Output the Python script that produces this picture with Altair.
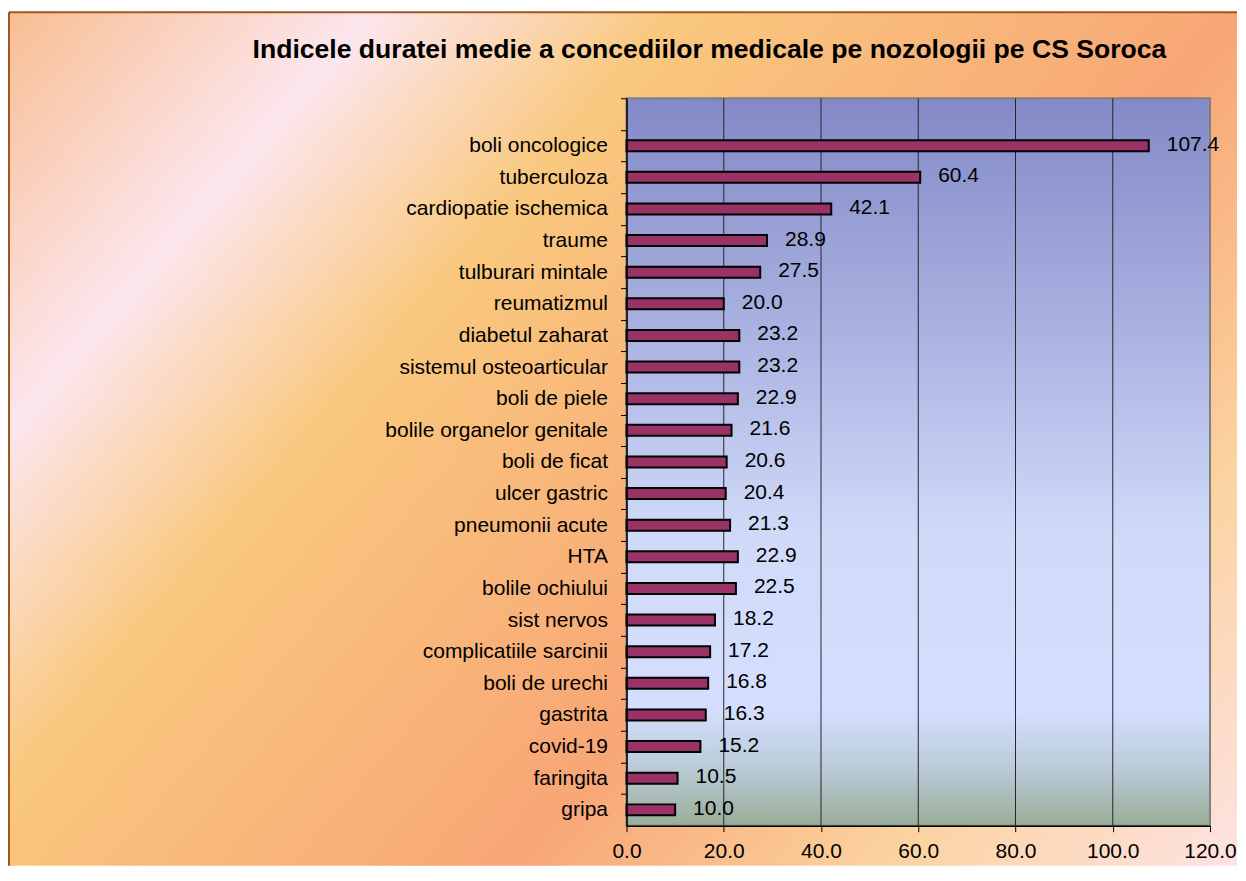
import altair as alt
import pandas as pd

# ---- data ----
categories = [
    "boli oncologice", "tuberculoza", "cardiopatie ischemica", "traume",
    "tulburari mintale", "reumatizmul\u00a0", "diabetul zaharat",
    "sistemul osteoarticular", "boli de piele", "bolile organelor genitale",
    "boli de ficat", "ulcer gastric", "pneumonii acute", "HTA",
    "bolile ochiului", "sist nervos", "complicatiile sarcinii",
    "boli de urechi", "gastrita", "covid-19", "faringita", "gripa",
]
values = [107.4, 60.4, 42.1, 28.9, 27.5, 20.0, 23.2, 23.2, 22.9, 21.6,
          20.6, 20.4, 21.3, 22.9, 22.5, 18.2, 17.2, 16.8, 16.3, 15.2, 10.5, 10.0]
x_ticks = [0, 20, 40, 60, 80, 100, 120]
grid_values = [20, 40, 60, 80, 100]
title_text = "Indicele duratei medie a concediilor medicale pe nozologii pe CS Soroca"

W, H = 584, 728
FONT = "Liberation Sans"
domain = [" "] + categories          # empty slot at the top of the plot
step = H / len(domain)

df = pd.DataFrame({"category": categories, "value": values})
grid_df = pd.DataFrame({"value": grid_values})
one = alt.Data(values=[{"a": 1}])

xscale = alt.Scale(domain=[0, 120], nice=False, zero=True)
yscale = alt.Scale(domain=domain, paddingInner=0, paddingOuter=0)

outer_grad = {
    "gradient": "linear", "x1": 0, "y1": 0, "x2": 1.176, "y2": 0.706,
    "stops": [
        {"offset": 0.0, "color": "#F8BE92"},
        {"offset": 0.185, "color": "#FCE6EE"},
        {"offset": 0.34, "color": "#F9C87E"},
        {"offset": 0.63, "color": "#F8A676"},
        {"offset": 0.82, "color": "#FBD3A0"},
        {"offset": 1.0, "color": "#FDE2E2"},
    ],
}
plot_grad = {
    "gradient": "linear", "x1": 0, "y1": 0, "x2": 0, "y2": 1,
    "stops": [
        {"offset": 0.0, "color": "#8389C6"},
        {"offset": 0.35, "color": "#AEB6E4"},
        {"offset": 0.60, "color": "#D0DAF8"},
        {"offset": 0.84, "color": "#D4DFFF"},
        {"offset": 0.92, "color": "#BACBD8"},
        {"offset": 1.0, "color": "#99AD97"},
    ],
}

L, R, T, B = -618, 611, -86, 768
BORDER = "#A0561E"

outer_bg = alt.Chart(one).mark_rect(fill=outer_grad).encode(
    x=alt.value(L), x2=alt.value(R), y=alt.value(T), y2=alt.value(B)
)
top_border = alt.Chart(one).mark_rule(color=BORDER, strokeWidth=2).encode(
    x=alt.value(L), x2=alt.value(R), y=alt.value(T)
)
left_border = alt.Chart(one).mark_rule(color=BORDER, strokeWidth=2).encode(
    x=alt.value(L), y=alt.value(T), y2=alt.value(B)
)
title = alt.Chart(one).mark_text(
    text=title_text, font=FONT, fontSize=26.6, fontWeight="bold",
    align="center", baseline="middle", color="black"
).encode(x=alt.value(83), y=alt.value(-48))

plot_bg = alt.Chart(one).mark_rect(fill=plot_grad, stroke="#808080", strokeWidth=2).encode(
    x=alt.value(0), x2=alt.value(W), y=alt.value(0), y2=alt.value(H)
)

grid = alt.Chart(grid_df).mark_rule(color="#262626", strokeWidth=1).encode(
    x=alt.X("value:Q", scale=xscale), y=alt.value(0), y2=alt.value(H)
)

xaxis = alt.Axis(
    values=x_ticks, format=".1f", title=None, grid=False, zindex=1,
    labelFont=FONT, labelFontSize=21, labelColor="black", labelPadding=9,
    domainColor="black", domainWidth=1.5, tickColor="black", tickSize=6,
    labelFlush=False, labelOverlap=False,
)
yaxis = alt.Axis(
    title=None, grid=False, zindex=1, labelFont=FONT, labelFontSize=21,
    labelColor="black", labelPadding=13, labelLimit=500,
    domainColor="black", domainWidth=1.5, tickColor="black", tickSize=6,
    tickOffset=-step / 2, labelOffset=step / 2,
)

bars = alt.Chart(df).mark_bar(size=11, fill="#993366", stroke="black", strokeWidth=2).encode(
    x=alt.X("value:Q", scale=xscale, axis=xaxis),
    y=alt.Y("category:N", scale=yscale, axis=yaxis),
)
labels = alt.Chart(df).mark_text(
    align="left", baseline="middle", dx=18, dy=-1,
    font=FONT, fontSize=21, color="black"
).encode(
    x=alt.X("value:Q", scale=xscale),
    y=alt.Y("category:N", scale=yscale),
    text=alt.Text("value:Q", format=".1f"),
)

chart = alt.layer(
    outer_bg, top_border, left_border, title, plot_bg, grid, bars, labels
).properties(
    width=W, height=H,
    padding={"top": 3, "left": 0, "right": 0, "bottom": 0},
    background="white",
).configure_view(stroke=None)

chart.save("out.html", embed_options={"renderer": "svg", "actions": False})
